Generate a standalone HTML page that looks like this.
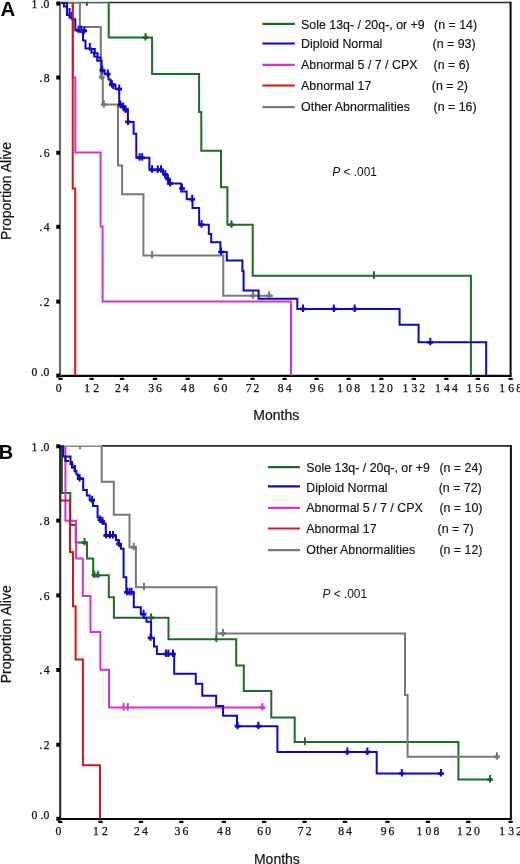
<!DOCTYPE html>
<html><head><meta charset="utf-8"><style>
html,body{margin:0;padding:0;background:#fff;width:520px;height:864px;overflow:hidden}
svg{display:block;will-change:transform}
.tk{font-family:"Liberation Serif",serif;font-size:11.7px;fill:#111;stroke:#111;stroke-width:0.25px}
.lg{font-family:"Liberation Sans",sans-serif;font-size:12.4px;fill:#111;stroke:#111;stroke-width:0.15px}
.ax{font-family:"Liberation Sans",sans-serif;font-size:14px;fill:#111;stroke:#111;stroke-width:0.2px}
.pv{font-family:"Liberation Sans",sans-serif;font-size:11.9px;fill:#111}
.pl{font-family:"Liberation Sans",sans-serif;font-size:20px;font-weight:bold;fill:#000}
</style></head><body>
<svg width="520" height="864" viewBox="0 0 520 864"><rect width="520" height="864" fill="#fff"/><path d="M108.7,2.5H510.6" fill="none" stroke="#2a2a2a" stroke-width="1.6"/><path d="M510.6,1.7V375.9" fill="none" stroke="#0a0a0a" stroke-width="2"/><path d="M59.0,375.9H511.6" fill="none" stroke="#050505" stroke-width="2.2"/><path d="M80,2.6H108.7" fill="none" stroke="#4a634a" stroke-width="1.6"/><path d="M108.7,2.6 V37.6 H152.1 V74 H199.1 V112 H201.3 V150.8 H221 V187.2 H227.4 V224.8 H252.7 V275.8 H470.9 V375.6" fill="none" stroke="#1f6c28" stroke-width="2.0"/><path d="M60,2.8 H79.9 V26.9 H100.8 V77.2 H102.8 V104.6 H118 V165.4 H122.1 V194.3 H143.4 V255.5 H223.3 V295.8 H273" fill="none" stroke="#787878" stroke-width="2.0"/><path d="M72.9,3 V77.3 H75.3 V152.5 H100.6 V226.6 H102.6 V301.6 H291 V375.6" fill="none" stroke="#d232d6" stroke-width="2.0"/><path d="M145.5,33.1V40.6" stroke="#1f6c28" stroke-width="2" fill="none"/><rect x="142.7" y="36.2" width="5.6" height="2.8" fill="#1f6c28"/><path d="M231.5,220.3V227.8" stroke="#1f6c28" stroke-width="2" fill="none"/><rect x="228.7" y="223.4" width="5.6" height="2.8" fill="#1f6c28"/><path d="M374,271.3V278.8" stroke="#1f6c28" stroke-width="2" fill="none"/><path d="M101.8,72.7V80.2" stroke="#787878" stroke-width="2" fill="none"/><rect x="99.0" y="75.8" width="5.6" height="2.8" fill="#787878"/><path d="M103.8,100.1V107.6" stroke="#787878" stroke-width="2" fill="none"/><rect x="101.0" y="103.19999999999999" width="5.6" height="2.8" fill="#787878"/><path d="M152.1,251.0V258.5" stroke="#787878" stroke-width="2" fill="none"/><path d="M253,291.3V298.8" stroke="#787878" stroke-width="2" fill="none"/><rect x="250.2" y="294.40000000000003" width="5.6" height="2.8" fill="#787878"/><path d="M269,291.3V298.8" stroke="#787878" stroke-width="2" fill="none"/><rect x="266.2" y="294.40000000000003" width="5.6" height="2.8" fill="#787878"/><path d="M87,2.5V5.8" stroke="#2f5f33" stroke-width="2"/><path d="M60,3 H67 V15 H69.5 V17.5 H72.5 V19.2 H75.3 V30.2 H83 V40.6 H85.5 V48.4 H91.4 V52.5 H94.2 V56.6 H97.2 V60.8 H101.6 V70.3 H104.5 V74 H108.5 V79.5 H110.5 V84.6 H115.5 V89 H119.2 V104.4 H122 V106.6 H125 V109.2 H127.9 V121.9 H133.6 V133.8 H136.3 V157.7 H149.4 V169.8 H163 V174 H165.3 V177.6 H168 V183.5 H181.2 V191.5 H186.7 V199.2 H192.5 V207.9 H199.1 V224.7 H208.8 V234 H211.2 V242.3 H220.4 V252 H226.8 V260.6 H242.4 V271 H243.6 V290.4 H258.6 V298.8 H297.3 V309 H399.6 V324.8 H418.6 V342.3 H486.2 V375.6" fill="none" stroke="#1008c4" stroke-width="2.0"/><path d="M64,3 V6.5 H67.5 M91.4,49.1 H94.8 V52.5 M94.2,53.2 H97.6 V56.6 M97.2,57.4 H100.6 V60.8 M113.3,84.6 V89" fill="none" stroke="#1008c4" stroke-width="2.0"/><path d="M69.5,8.0V15.5" stroke="#1008c4" stroke-width="2" fill="none"/><path d="M71.5,12.0V19.5" stroke="#1008c4" stroke-width="2" fill="none"/><path d="M78.6,25.7V33.2" stroke="#1008c4" stroke-width="2" fill="none"/><rect x="75.8" y="28.8" width="5.6" height="2.8" fill="#1008c4"/><path d="M81.2,25.7V33.2" stroke="#1008c4" stroke-width="2" fill="none"/><rect x="78.4" y="28.8" width="5.6" height="2.8" fill="#1008c4"/><path d="M84.3,26.3V33.8" stroke="#1008c4" stroke-width="2" fill="none"/><rect x="81.5" y="29.400000000000002" width="5.6" height="2.8" fill="#1008c4"/><path d="M89.8,43.0V50.5" stroke="#1008c4" stroke-width="2" fill="none"/><path d="M102.3,65.8V73.3" stroke="#1008c4" stroke-width="2" fill="none"/><rect x="99.5" y="68.89999999999999" width="5.6" height="2.8" fill="#1008c4"/><path d="M107.8,69.5V77" stroke="#1008c4" stroke-width="2" fill="none"/><rect x="105.0" y="72.6" width="5.6" height="2.8" fill="#1008c4"/><path d="M111.9,80.1V87.6" stroke="#1008c4" stroke-width="2" fill="none"/><rect x="109.10000000000001" y="83.19999999999999" width="5.6" height="2.8" fill="#1008c4"/><path d="M119.2,84.5V92" stroke="#1008c4" stroke-width="2" fill="none"/><rect x="116.4" y="87.6" width="5.6" height="2.8" fill="#1008c4"/><path d="M120.4,100.5V108" stroke="#1008c4" stroke-width="2" fill="none"/><rect x="117.60000000000001" y="103.6" width="5.6" height="2.8" fill="#1008c4"/><path d="M123.2,102.5V110" stroke="#1008c4" stroke-width="2" fill="none"/><rect x="120.4" y="105.6" width="5.6" height="2.8" fill="#1008c4"/><path d="M125.6,105.5V113" stroke="#1008c4" stroke-width="2" fill="none"/><rect x="122.8" y="108.6" width="5.6" height="2.8" fill="#1008c4"/><path d="M128,117.4V124.9" stroke="#1008c4" stroke-width="2" fill="none"/><rect x="125.2" y="120.5" width="5.6" height="2.8" fill="#1008c4"/><path d="M139.6,153.2V160.7" stroke="#1008c4" stroke-width="2" fill="none"/><rect x="136.79999999999998" y="156.29999999999998" width="5.6" height="2.8" fill="#1008c4"/><path d="M142.2,153.2V160.7" stroke="#1008c4" stroke-width="2" fill="none"/><rect x="139.39999999999998" y="156.29999999999998" width="5.6" height="2.8" fill="#1008c4"/><path d="M152,165.3V172.8" stroke="#1008c4" stroke-width="2" fill="none"/><rect x="149.2" y="168.4" width="5.6" height="2.8" fill="#1008c4"/><path d="M157.8,165.3V172.8" stroke="#1008c4" stroke-width="2" fill="none"/><rect x="155.0" y="168.4" width="5.6" height="2.8" fill="#1008c4"/><path d="M161,165.3V172.8" stroke="#1008c4" stroke-width="2" fill="none"/><rect x="158.2" y="168.4" width="5.6" height="2.8" fill="#1008c4"/><path d="M165.3,170.0V177.5" stroke="#1008c4" stroke-width="2" fill="none"/><rect x="162.5" y="173.1" width="5.6" height="2.8" fill="#1008c4"/><path d="M168,174.5V182" stroke="#1008c4" stroke-width="2" fill="none"/><rect x="165.2" y="177.6" width="5.6" height="2.8" fill="#1008c4"/><path d="M170,179.0V186.5" stroke="#1008c4" stroke-width="2" fill="none"/><rect x="167.2" y="182.1" width="5.6" height="2.8" fill="#1008c4"/><path d="M182,184.0V191.5" stroke="#1008c4" stroke-width="2" fill="none"/><rect x="179.2" y="187.1" width="5.6" height="2.8" fill="#1008c4"/><path d="M192.2,194.7V202.2" stroke="#1008c4" stroke-width="2" fill="none"/><rect x="189.39999999999998" y="197.79999999999998" width="5.6" height="2.8" fill="#1008c4"/><path d="M201.5,220.2V227.7" stroke="#1008c4" stroke-width="2" fill="none"/><rect x="198.7" y="223.29999999999998" width="5.6" height="2.8" fill="#1008c4"/><path d="M221,247.5V255" stroke="#1008c4" stroke-width="2" fill="none"/><rect x="218.2" y="250.6" width="5.6" height="2.8" fill="#1008c4"/><path d="M303,304.5V312" stroke="#1008c4" stroke-width="2" fill="none"/><rect x="300.2" y="307.6" width="5.6" height="2.8" fill="#1008c4"/><path d="M333.9,304.5V312" stroke="#1008c4" stroke-width="2" fill="none"/><rect x="331.09999999999997" y="307.6" width="5.6" height="2.8" fill="#1008c4"/><path d="M354.7,304.5V312" stroke="#1008c4" stroke-width="2" fill="none"/><rect x="351.9" y="307.6" width="5.6" height="2.8" fill="#1008c4"/><path d="M430.3,337.8V345.3" stroke="#1008c4" stroke-width="2" fill="none"/><rect x="427.5" y="340.90000000000003" width="5.6" height="2.8" fill="#1008c4"/><path d="M72.7,3 V188.6 H75.2 V375.6" fill="none" stroke="#d01818" stroke-width="2.0"/><path d="M60.0,1.5V375.9" fill="none" stroke="#6a6a6a" stroke-width="2.1"/><rect x="56.3" y="1.5" width="3.8" height="4" fill="#000"/><rect x="56.3" y="75.5" width="3.8" height="4" fill="#000"/><rect x="56.3" y="150.8" width="3.8" height="4" fill="#000"/><rect x="56.3" y="224.8" width="3.8" height="4" fill="#000"/><rect x="56.3" y="299.6" width="3.8" height="4" fill="#000"/><rect x="56.3" y="373.6" width="3.8" height="4" fill="#000"/><rect x="58.1" y="377.7" width="4.6" height="2.3" rx="1" fill="#000"/><rect x="89.3" y="377.7" width="4.6" height="2.3" rx="1" fill="#000"/><rect x="119.7" y="377.7" width="4.6" height="2.3" rx="1" fill="#000"/><rect x="152.7" y="377.7" width="4.6" height="2.3" rx="1" fill="#000"/><rect x="185.39999999999998" y="377.7" width="4.6" height="2.3" rx="1" fill="#000"/><rect x="218.1" y="377.7" width="4.6" height="2.3" rx="1" fill="#000"/><rect x="250.2" y="377.7" width="4.6" height="2.3" rx="1" fill="#000"/><rect x="282.3" y="377.7" width="4.6" height="2.3" rx="1" fill="#000"/><rect x="314.3" y="377.7" width="4.6" height="2.3" rx="1" fill="#000"/><rect x="346.3" y="377.7" width="4.6" height="2.3" rx="1" fill="#000"/><rect x="379.0" y="377.7" width="4.6" height="2.3" rx="1" fill="#000"/><rect x="411.5" y="377.7" width="4.6" height="2.3" rx="1" fill="#000"/><rect x="444.0" y="377.7" width="4.6" height="2.3" rx="1" fill="#000"/><rect x="475.5" y="377.7" width="4.6" height="2.3" rx="1" fill="#000"/><rect x="508.3" y="377.7" width="4.6" height="2.3" rx="1" fill="#000"/><text x="34.4" y="7.9" text-anchor="middle" class="tk">1</text><text x="41.9" y="7.9" text-anchor="middle" class="tk">.</text><text x="46.3" y="7.9" text-anchor="middle" class="tk">0</text><text x="40.6" y="81.9" text-anchor="middle" class="tk">.</text><text x="46.6" y="81.9" text-anchor="middle" class="tk">8</text><text x="40.6" y="157.20000000000002" text-anchor="middle" class="tk">.</text><text x="46.6" y="157.20000000000002" text-anchor="middle" class="tk">6</text><text x="40.6" y="231.20000000000002" text-anchor="middle" class="tk">.</text><text x="46.6" y="231.20000000000002" text-anchor="middle" class="tk">4</text><text x="40.6" y="306.0" text-anchor="middle" class="tk">.</text><text x="46.6" y="306.0" text-anchor="middle" class="tk">2</text><text x="34.4" y="375.8" text-anchor="middle" class="tk">0</text><text x="41.9" y="375.8" text-anchor="middle" class="tk">.</text><text x="46.3" y="375.8" text-anchor="middle" class="tk">0</text><text x="58.6" y="391.7" text-anchor="middle" class="tk">0</text><text x="87.1" y="391.7" text-anchor="middle" class="tk">1</text><text x="96.1" y="391.7" text-anchor="middle" class="tk">2</text><text x="118.0" y="391.7" text-anchor="middle" class="tk">2</text><text x="126.0" y="391.7" text-anchor="middle" class="tk">4</text><text x="151.1" y="391.7" text-anchor="middle" class="tk">3</text><text x="159.0" y="391.7" text-anchor="middle" class="tk">6</text><text x="183.8" y="391.7" text-anchor="middle" class="tk">4</text><text x="191.7" y="391.7" text-anchor="middle" class="tk">8</text><text x="216.5" y="391.7" text-anchor="middle" class="tk">6</text><text x="224.4" y="391.7" text-anchor="middle" class="tk">0</text><text x="248.6" y="391.7" text-anchor="middle" class="tk">7</text><text x="256.4" y="391.7" text-anchor="middle" class="tk">2</text><text x="280.7" y="391.7" text-anchor="middle" class="tk">8</text><text x="288.6" y="391.7" text-anchor="middle" class="tk">4</text><text x="312.7" y="391.7" text-anchor="middle" class="tk">9</text><text x="320.6" y="391.7" text-anchor="middle" class="tk">6</text><text x="340.2" y="391.7" text-anchor="middle" class="tk">1</text><text x="349.2" y="391.7" text-anchor="middle" class="tk">0</text><text x="357.1" y="391.7" text-anchor="middle" class="tk">8</text><text x="372.9" y="391.7" text-anchor="middle" class="tk">1</text><text x="381.9" y="391.7" text-anchor="middle" class="tk">2</text><text x="389.8" y="391.7" text-anchor="middle" class="tk">0</text><text x="405.4" y="391.7" text-anchor="middle" class="tk">1</text><text x="414.4" y="391.7" text-anchor="middle" class="tk">3</text><text x="422.2" y="391.7" text-anchor="middle" class="tk">2</text><text x="437.9" y="391.7" text-anchor="middle" class="tk">1</text><text x="446.9" y="391.7" text-anchor="middle" class="tk">4</text><text x="454.8" y="391.7" text-anchor="middle" class="tk">4</text><text x="469.4" y="391.7" text-anchor="middle" class="tk">1</text><text x="478.4" y="391.7" text-anchor="middle" class="tk">5</text><text x="486.2" y="391.7" text-anchor="middle" class="tk">6</text><text x="502.2" y="391.7" text-anchor="middle" class="tk">1</text><text x="511.2" y="391.7" text-anchor="middle" class="tk">6</text><text x="519.1" y="391.7" text-anchor="middle" class="tk">8</text><text x="0.4" y="15.6" class="pl" style="font-size:20.4px">A</text><text transform="translate(10.8,191.0) rotate(-90)" text-anchor="middle" class="ax">Proportion Alive</text><text x="276.3" y="420.3" text-anchor="middle" class="ax">Months</text><text x="332.3" y="176" class="pv"><tspan font-style="italic">P</tspan> &lt; .001</text><path d="M262.4,23.8H294.8" stroke="#1f6c28" stroke-width="2.2" fill="none"/><text x="301.1" y="29.3" class="lg">Sole 13q- / 20q-, or +9</text><text x="434.1" y="29.3" class="lg">(n = 14)</text><path d="M262.4,43.5H294.8" stroke="#1008c4" stroke-width="2.2" fill="none"/><text x="301.1" y="48.1" class="lg">Diploid Normal</text><text x="432.5" y="48.1" class="lg">(n = 93)</text><path d="M262.4,64.9H294.8" stroke="#d232d6" stroke-width="2.2" fill="none"/><text x="301.1" y="68.9" class="lg">Abnormal 5 / 7 / CPX</text><text x="433.6" y="68.9" class="lg">(n = 6)</text><path d="M262.4,85.5H294.8" stroke="#d01818" stroke-width="2.2" fill="none"/><text x="301.1" y="89.6" class="lg">Abnormal 17</text><text x="431.8" y="89.6" class="lg">(n = 2)</text><path d="M262.4,107.1H294.8" stroke="#787878" stroke-width="2.2" fill="none"/><text x="301.1" y="110.6" class="lg">Other Abnormalities</text><text x="433.6" y="110.6" class="lg">(n = 16)</text><path d="M101.7,445.9H510.9" fill="none" stroke="#2a2a2a" stroke-width="1.6"/><path d="M510.9,445.09999999999997V819.0" fill="none" stroke="#0a0a0a" stroke-width="2"/><path d="M59.2,819.0H511.9" fill="none" stroke="#050505" stroke-width="2.2"/><path d="M60,446.2H101.7" fill="none" stroke="#8a8a8a" stroke-width="1.4"/><path d="M62,446.3 V493.1 H70.3 V525 H75.7 V542.5 H87 V558.5 H93.2 V575.2 H108.8 V597.3 H113.9 V617.8 H168.5 V639.2 H236.2 V665.4 H243.8 V691 H271.3 V717.4 H294.7 V742 H458.4 V779.6 H490.6" fill="none" stroke="#1f6c28" stroke-width="2.0"/><path d="M101.7,446.2 V481.7 H113.8 V514.7 H129.5 V547.3 H135.9 V587.2 H216.5 V633.4 H405 V695 H407.6 V756.8 H497.5" fill="none" stroke="#787878" stroke-width="2.0"/><path d="M65.4,446.3 V520.8 H76.1 V558.5 H82.8 V596 H90.5 V632.1 H100.4 V669.8 H109 V707.6 H262.4" fill="none" stroke="#d232d6" stroke-width="2.0"/><path d="M84.5,538.0V545.5" stroke="#1f6c28" stroke-width="2" fill="none"/><rect x="81.7" y="541.1" width="5.6" height="2.8" fill="#1f6c28"/><path d="M94.3,570.7V578.2" stroke="#1f6c28" stroke-width="2" fill="none"/><rect x="91.5" y="573.8000000000001" width="5.6" height="2.8" fill="#1f6c28"/><path d="M97.8,570.7V578.2" stroke="#1f6c28" stroke-width="2" fill="none"/><rect x="95.0" y="573.8000000000001" width="5.6" height="2.8" fill="#1f6c28"/><path d="M151.1,613.3V620.8" stroke="#1f6c28" stroke-width="2" fill="none"/><rect x="148.29999999999998" y="616.4" width="5.6" height="2.8" fill="#1f6c28"/><path d="M216.3,634.7V642.2" stroke="#1f6c28" stroke-width="2" fill="none"/><path d="M305,737.5V745" stroke="#1f6c28" stroke-width="2" fill="none"/><path d="M490,775.1V782.6" stroke="#1f6c28" stroke-width="2" fill="none"/><rect x="487.2" y="778.2" width="5.6" height="2.8" fill="#1f6c28"/><path d="M123.6,703.1V710.6" stroke="#d232d6" stroke-width="2" fill="none"/><path d="M127.8,703.1V710.6" stroke="#d232d6" stroke-width="2" fill="none"/><path d="M262.4,703.1V710.6" stroke="#d232d6" stroke-width="2" fill="none"/><rect x="259.59999999999997" y="706.2" width="5.6" height="2.8" fill="#d232d6"/><path d="M133.7,542.8V550.3" stroke="#787878" stroke-width="2" fill="none"/><rect x="130.89999999999998" y="545.9" width="5.6" height="2.8" fill="#787878"/><path d="M144,582.7V590.2" stroke="#787878" stroke-width="2" fill="none"/><path d="M223,628.9V636.4" stroke="#787878" stroke-width="2" fill="none"/><rect x="220.2" y="632.0" width="5.6" height="2.8" fill="#787878"/><path d="M497,752.3V759.8" stroke="#787878" stroke-width="2" fill="none"/><rect x="494.2" y="755.4" width="5.6" height="2.8" fill="#787878"/><path d="M80,446V449.3" stroke="#7a7a7a" stroke-width="2"/><path d="M60,446.3 H63.2 V456.4 H70.5 V464 H72.5 V467.5 H74.5 V471 H76.5 V474.5 H78 V478.5 H83.2 V490.1 H86.8 V495.4 H89.7 V500.2 H93 V506 H97.6 V517.6 H100 V520.5 H103 V523.8 H105.8 V535.4 H116 V540 H118.3 V544 H121 V548.8 H123.6 V577.3 H126.3 V592.3 H133.8 V607.3 H140.8 V614.2 H143.6 V617.7 H146.5 V621.7 H151.1 V637.9 H154 V646.5 H156.9 V654 H174.2 V673.7 H195.8 V683.7 H202.3 V695.7 H216.2 V705.9 H223.1 V715.8 H237 V726.2 H277.4 V752 H376.7 V773.5 H441.4" fill="none" stroke="#1008c4" stroke-width="2.0"/><path d="M65.4,456.4 V461 H69" fill="none" stroke="#1008c4" stroke-width="2.0"/><path d="M72,461.0V468.5" stroke="#1008c4" stroke-width="2" fill="none"/><path d="M75,465.0V472.5" stroke="#1008c4" stroke-width="2" fill="none"/><path d="M79.6,474.0V481.5" stroke="#1008c4" stroke-width="2" fill="none"/><rect x="76.8" y="477.1" width="5.6" height="2.8" fill="#1008c4"/><path d="M92.2,495.7V503.2" stroke="#1008c4" stroke-width="2" fill="none"/><rect x="89.4" y="498.8" width="5.6" height="2.8" fill="#1008c4"/><path d="M100.4,515.5V523" stroke="#1008c4" stroke-width="2" fill="none"/><rect x="97.60000000000001" y="518.6" width="5.6" height="2.8" fill="#1008c4"/><path d="M102.4,517.0V524.5" stroke="#1008c4" stroke-width="2" fill="none"/><rect x="99.60000000000001" y="520.1" width="5.6" height="2.8" fill="#1008c4"/><path d="M106.2,530.9V538.4" stroke="#1008c4" stroke-width="2" fill="none"/><rect x="103.4" y="534.0" width="5.6" height="2.8" fill="#1008c4"/><path d="M110,530.9V538.4" stroke="#1008c4" stroke-width="2" fill="none"/><rect x="107.2" y="534.0" width="5.6" height="2.8" fill="#1008c4"/><path d="M113,530.9V538.4" stroke="#1008c4" stroke-width="2" fill="none"/><rect x="110.2" y="534.0" width="5.6" height="2.8" fill="#1008c4"/><path d="M119,539.5V547" stroke="#1008c4" stroke-width="2" fill="none"/><rect x="116.2" y="542.6" width="5.6" height="2.8" fill="#1008c4"/><path d="M127,587.8V595.3" stroke="#1008c4" stroke-width="2" fill="none"/><rect x="124.2" y="590.9" width="5.6" height="2.8" fill="#1008c4"/><path d="M129.5,587.8V595.3" stroke="#1008c4" stroke-width="2" fill="none"/><rect x="126.7" y="590.9" width="5.6" height="2.8" fill="#1008c4"/><path d="M131.5,587.8V595.3" stroke="#1008c4" stroke-width="2" fill="none"/><rect x="128.7" y="590.9" width="5.6" height="2.8" fill="#1008c4"/><path d="M143.6,609.7V617.2" stroke="#1008c4" stroke-width="2" fill="none"/><rect x="140.79999999999998" y="612.8000000000001" width="5.6" height="2.8" fill="#1008c4"/><path d="M150.5,633.4V640.9" stroke="#1008c4" stroke-width="2" fill="none"/><rect x="147.7" y="636.5" width="5.6" height="2.8" fill="#1008c4"/><path d="M166.1,649.5V657" stroke="#1008c4" stroke-width="2" fill="none"/><rect x="163.29999999999998" y="652.6" width="5.6" height="2.8" fill="#1008c4"/><path d="M168.4,649.5V657" stroke="#1008c4" stroke-width="2" fill="none"/><rect x="165.6" y="652.6" width="5.6" height="2.8" fill="#1008c4"/><path d="M173,649.5V657" stroke="#1008c4" stroke-width="2" fill="none"/><rect x="170.2" y="652.6" width="5.6" height="2.8" fill="#1008c4"/><path d="M237.5,721.7V729.2" stroke="#1008c4" stroke-width="2" fill="none"/><rect x="234.7" y="724.8000000000001" width="5.6" height="2.8" fill="#1008c4"/><path d="M258.4,721.7V729.2" stroke="#1008c4" stroke-width="2" fill="none"/><rect x="255.59999999999997" y="724.8000000000001" width="5.6" height="2.8" fill="#1008c4"/><path d="M347.3,747.5V755" stroke="#1008c4" stroke-width="2" fill="none"/><rect x="344.5" y="750.6" width="5.6" height="2.8" fill="#1008c4"/><path d="M367.4,747.5V755" stroke="#1008c4" stroke-width="2" fill="none"/><rect x="364.59999999999997" y="750.6" width="5.6" height="2.8" fill="#1008c4"/><path d="M401.8,769.0V776.5" stroke="#1008c4" stroke-width="2" fill="none"/><rect x="399.0" y="772.1" width="5.6" height="2.8" fill="#1008c4"/><path d="M441,769.0V776.5" stroke="#1008c4" stroke-width="2" fill="none"/><rect x="438.2" y="772.1" width="5.6" height="2.8" fill="#1008c4"/><path d="M60.2,446.3 V500.4 H70 V552.1 H73 V606.3 H75.6 V659.6 H82.9 V765.3 H100 V818.8" fill="none" stroke="#d01818" stroke-width="2.0"/><path d="M60.2,444.9V819.0" fill="none" stroke="#2a2a2a" stroke-width="2.1"/><rect x="56.3" y="444.3" width="3.8" height="4" fill="#000"/><rect x="56.3" y="518.6" width="3.8" height="4" fill="#000"/><rect x="56.3" y="593.4" width="3.8" height="4" fill="#000"/><rect x="56.3" y="668.0" width="3.8" height="4" fill="#000"/><rect x="56.3" y="742.8" width="3.8" height="4" fill="#000"/><rect x="56.3" y="816.8" width="3.8" height="4" fill="#000"/><rect x="57.900000000000006" y="820.8" width="4.6" height="2.3" rx="1" fill="#000"/><rect x="98.2" y="820.8" width="4.6" height="2.3" rx="1" fill="#000"/><rect x="138.6" y="820.8" width="4.6" height="2.3" rx="1" fill="#000"/><rect x="179.0" y="820.8" width="4.6" height="2.3" rx="1" fill="#000"/><rect x="221.5" y="820.8" width="4.6" height="2.3" rx="1" fill="#000"/><rect x="261.9" y="820.8" width="4.6" height="2.3" rx="1" fill="#000"/><rect x="302.3" y="820.8" width="4.6" height="2.3" rx="1" fill="#000"/><rect x="342.7" y="820.8" width="4.6" height="2.3" rx="1" fill="#000"/><rect x="385.2" y="820.8" width="4.6" height="2.3" rx="1" fill="#000"/><rect x="425.59999999999997" y="820.8" width="4.6" height="2.3" rx="1" fill="#000"/><rect x="466.0" y="820.8" width="4.6" height="2.3" rx="1" fill="#000"/><rect x="508.3" y="820.8" width="4.6" height="2.3" rx="1" fill="#000"/><text x="34.4" y="450.7" text-anchor="middle" class="tk">1</text><text x="41.9" y="450.7" text-anchor="middle" class="tk">.</text><text x="46.3" y="450.7" text-anchor="middle" class="tk">0</text><text x="40.6" y="525.0" text-anchor="middle" class="tk">.</text><text x="46.6" y="525.0" text-anchor="middle" class="tk">8</text><text x="40.6" y="599.8" text-anchor="middle" class="tk">.</text><text x="46.6" y="599.8" text-anchor="middle" class="tk">6</text><text x="40.6" y="674.4" text-anchor="middle" class="tk">.</text><text x="46.6" y="674.4" text-anchor="middle" class="tk">4</text><text x="40.6" y="749.1999999999999" text-anchor="middle" class="tk">.</text><text x="46.6" y="749.1999999999999" text-anchor="middle" class="tk">2</text><text x="34.4" y="819.0" text-anchor="middle" class="tk">0</text><text x="41.9" y="819.0" text-anchor="middle" class="tk">.</text><text x="46.3" y="819.0" text-anchor="middle" class="tk">0</text><text x="58.4" y="834.6" text-anchor="middle" class="tk">0</text><text x="96.0" y="834.6" text-anchor="middle" class="tk">1</text><text x="105.0" y="834.6" text-anchor="middle" class="tk">2</text><text x="137.0" y="834.6" text-anchor="middle" class="tk">2</text><text x="144.9" y="834.6" text-anchor="middle" class="tk">4</text><text x="177.4" y="834.6" text-anchor="middle" class="tk">3</text><text x="185.3" y="834.6" text-anchor="middle" class="tk">6</text><text x="219.9" y="834.6" text-anchor="middle" class="tk">4</text><text x="227.8" y="834.6" text-anchor="middle" class="tk">8</text><text x="260.2" y="834.6" text-anchor="middle" class="tk">6</text><text x="268.1" y="834.6" text-anchor="middle" class="tk">0</text><text x="300.7" y="834.6" text-anchor="middle" class="tk">7</text><text x="308.6" y="834.6" text-anchor="middle" class="tk">2</text><text x="341.1" y="834.6" text-anchor="middle" class="tk">8</text><text x="348.9" y="834.6" text-anchor="middle" class="tk">4</text><text x="383.6" y="834.6" text-anchor="middle" class="tk">9</text><text x="391.4" y="834.6" text-anchor="middle" class="tk">6</text><text x="419.4" y="834.6" text-anchor="middle" class="tk">1</text><text x="428.4" y="834.6" text-anchor="middle" class="tk">0</text><text x="436.3" y="834.6" text-anchor="middle" class="tk">8</text><text x="459.9" y="834.6" text-anchor="middle" class="tk">1</text><text x="468.9" y="834.6" text-anchor="middle" class="tk">2</text><text x="476.8" y="834.6" text-anchor="middle" class="tk">0</text><text x="502.2" y="834.6" text-anchor="middle" class="tk">1</text><text x="511.2" y="834.6" text-anchor="middle" class="tk">3</text><text x="519.1" y="834.6" text-anchor="middle" class="tk">2</text><text x="-1.3" y="458.6" class="pl">B</text><text transform="translate(10.8,634.3) rotate(-90)" text-anchor="middle" class="ax">Proportion Alive</text><text x="276.9" y="863.5" text-anchor="middle" class="ax">Months</text><text x="322.4" y="598.3" class="pv"><tspan font-style="italic">P</tspan> &lt; .001</text><path d="M267.9,467.2H299.9" stroke="#1f6c28" stroke-width="2.2" fill="none"/><text x="306.3" y="472.1" class="lg">Sole 13q- / 20q-, or +9</text><text x="439.40000000000003" y="472.1" class="lg">(n = 24)</text><path d="M267.9,486.3H299.9" stroke="#1008c4" stroke-width="2.2" fill="none"/><text x="306.3" y="492.0" class="lg">Diploid Normal</text><text x="438.7" y="492.0" class="lg">(n = 72)</text><path d="M267.9,507.9H299.9" stroke="#d232d6" stroke-width="2.2" fill="none"/><text x="306.3" y="512.1" class="lg">Abnormal 5 / 7 / CPX</text><text x="439.40000000000003" y="512.1" class="lg">(n = 10)</text><path d="M267.9,528.5H299.9" stroke="#d01818" stroke-width="2.2" fill="none"/><text x="306.3" y="533.0" class="lg">Abnormal 17</text><text x="437.5" y="533.0" class="lg">(n = 7)</text><path d="M267.9,550.1H299.9" stroke="#787878" stroke-width="2.2" fill="none"/><text x="306.3" y="553.8" class="lg">Other Abnormalities</text><text x="439.40000000000003" y="553.8" class="lg">(n = 12)</text></svg>
</body></html>
